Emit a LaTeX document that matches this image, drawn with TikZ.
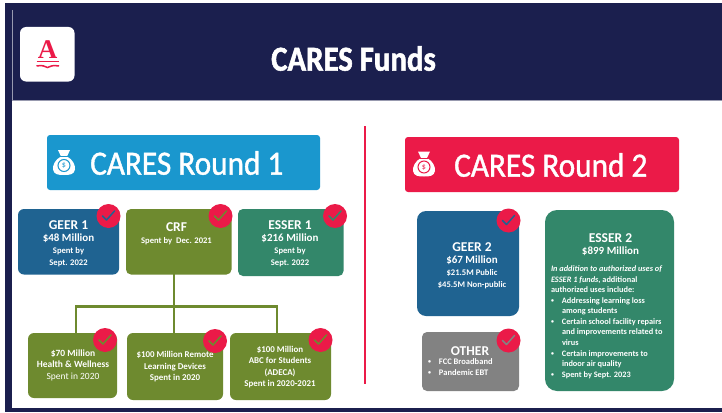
\documentclass[tikz,border=0pt]{standalone}
\usepackage{fontspec}
\setmainfont{Carlito}
\newfontfamily\bannerfont[FakeBold=1.2,FakeStretch=0.92]{Carlito}
\newfontfamily\titlefont[BoldFont=Carlito Bold,FakeBold=1.6,FakeStretch=0.88]{Carlito}
\newfontfamily\logofont{Liberation Serif}
\usetikzlibrary{calc}
\definecolor{navy}{HTML}{1B1F4E}
\definecolor{crimson}{HTML}{EB1A48}
\definecolor{skyb}{HTML}{1A97CE}
\definecolor{steel}{HTML}{1F6391}
\definecolor{olive}{HTML}{6E8A2F}
\definecolor{teal2}{HTML}{33876A}
\definecolor{greyb}{HTML}{828282}
\newcommand{\fsA}{\fontsize{13.5}{16}\selectfont}
\newcommand{\fsB}{\fontsize{11}{12.5}\selectfont}
\newcommand{\fsC}{\fontsize{8.6}{10}\selectfont}
\newcommand{\bul}{\raisebox{.6pt}{\scalebox{.7}{\textbullet}}\hspace{8pt}}
\tikzset{
  x=1pt,y=-1pt,
  card/.style={inner sep=0pt,outer sep=0pt,text=white,font=\bfseries,align=center},
  listtext/.style={card,anchor=north west,align=left,font=\bfseries\fontsize{8.3}{10.55}\selectfont},
  banner/.style={text=white,inner sep=0pt,font=\bannerfont\fontsize{34}{34}\selectfont},
  conn/.style={draw=olive,line width=2.4pt},
  checkdisc/.style={circle,fill=crimson,minimum size=24pt,inner sep=0pt},
  tick/.style={line width=1.5pt,line cap=round,line join=round},
}
\newcommand{\chk}[4]{% name,x,y,tick colour
  \node[checkdisc] (#1) at (#2,#3) {};
  \draw[tick,draw=#4] ($(#1)+(-6,0)$) -- ($(#1)+(-2,4)$) -- ($(#1)+(6,-5)$);}
\newcommand{\bag}[3]{% x,y,colour
  \begin{scope}[shift={(#1,#2)}]
    \path[fill=white] (-6,-12.5) -- (6,-12.5) -- (3,-6) .. controls (9,-3) and (11.5,3) .. (11,7)
      .. controls (10,12) and (6,12.5) .. (0,12.5) .. controls (-6,12.5) and (-10,12) .. (-11,7)
      .. controls (-11.5,3) and (-9,-3) .. (-3,-6) -- cycle;
    \draw[#3,line width=1pt] (-4,-6) -- (4,-6);
    \draw[#3,line width=1pt] (0,3) circle[radius=6];
    \node[text=#3,inner sep=0pt,font=\fontsize{8}{8}\selectfont] at (0,3) {\$};
  \end{scope}}
\begin{document}
\begin{tikzpicture}
\useasboundingbox (0,0) rectangle (722,412);
\fill[white] (0,0) rectangle (722,412);
% frame
\fill[navy] (5,3) rectangle (722,100);
\fill[navy] (5,3) rectangle (12,412);
\fill[navy] (5,407.5) rectangle (722,412);
\draw[line width=.6pt,draw=white!55!navy] (12.5,10) -- (12.5,100) -- (722,100);
% logo
\fill[white,rounded corners=6pt] (20,27) rectangle (74.5,81.5);
\node[text=crimson,inner sep=0pt,font=\logofont\bfseries\fontsize{27}{27}\selectfont] (logoA) at (47.5,49.5) {A};
\draw[crimson,line width=1.5pt] (36.5,61.5) -- (59,61.5);
\draw[crimson,line width=1.5pt] (36.5,66) .. controls (42,65) and (45,66) .. (47.5,67.5) .. controls (50,66) and (53,65) .. (59,66);
\node[text=white,inner sep=0pt,font=\titlefont\bfseries\fontsize{35}{35}\selectfont] (title) at (353.5,58.5) {CARES Funds};
% divider
\draw[crimson,line width=2pt] (365,126) -- (365,384);
% banners
\fill[skyb,rounded corners=3pt] (47,135) rectangle (320,190);
\bag{64}{162.5}{skyb}
\node[banner,anchor=west] (r1) at (90,163) {CARES Round 1};
\fill[crimson,rounded corners=3pt] (405,137) rectangle (679,192);
\bag{424}{164}{crimson}
\node[banner,anchor=west] (r2) at (454,165) {CARES Round 2};
% connectors (under the cards)
\coordinate (crfb) at (174,274);
\coordinate (hub) at (174,306.5);
\coordinate (hl) at (76,306.5);
\coordinate (hr) at (277,306.5);
\coordinate (b1t) at (76,334);
\coordinate (b2t) at (174,334);
\coordinate (b3t) at (277,334);
\draw[conn] (crfb) -- (hub);
\draw[conn,line cap=rect] (hl) -- (hr);
\draw[conn] (hl) -- (b1t);
\draw[conn] (hub) -- (b2t);
\draw[conn] (hr) -- (b3t);
% round 1 cards
\fill[steel,rounded corners=6pt] (18,209) rectangle (119,274.5);
\fill[olive,rounded corners=5pt] (126,209) rectangle (231.5,274.5);
\fill[teal2,rounded corners=5pt] (238,209) rectangle (343.5,276);
\fill[olive,rounded corners=6pt] (28,333) rectangle (117,398);
\fill[olive,rounded corners=6pt] (127,333) rectangle (223,400);
\fill[olive,rounded corners=6pt] (230,333) rectangle (331,400);
\node[card] (geer1) at (68.5,243.5) {\fsA GEER 1\\\fsB \$48 Million\\\fsC Spent by\\\fsC Sept. 2022};
\node[card] (crf) at (176.5,234) {\fsA CRF\\\fsC Spent by\ \ Dec. 2021};
\node[card] (esser1) at (290,243.5) {\fsA ESSER 1\\\fsB \$216 Million\\\fsC Spent by\\\fsC Sept. 2022};
\node[card,font=\bfseries\fontsize{9.5}{11.5}\selectfont] (b1) at (73,365) {\$70 Million\\Health \& Wellness\\\mdseries Spent in 2020};
\node[card,font=\bfseries\fontsize{8.9}{11.5}\selectfont] (b2) at (175,367) {\$100 Million Remote\\Learning Devices\\Spent in 2020};
\node[card,font=\bfseries\fontsize{8.9}{11.5}\selectfont] (b3) at (280,367) {\$100 Million\\ABC for Students\\(ADECA)\\Spent in 2020-2021};
% round 2 cards
\fill[steel,rounded corners=9pt] (417,211) rectangle (519,316);
\fill[greyb,rounded corners=5pt] (422,332) rectangle (519,391);
\fill[teal2,rounded corners=12pt] (545,210) rectangle (674,391);
\node[card] (geer2) at (472,265.5) {\fsA GEER 2\\\fsB \$67 Million\\\fsC \$21.5M Public\\\fsC \$45.5M Non-public};
\node[card] (oth) at (470,351) {\fsA OTHER};
\node[listtext,font=\bfseries\fontsize{8.5}{11}\selectfont] (othl) at (428,358.5) {\bul FCC Broadband\\\bul Pandemic EBT};
\node[card] (esser2h) at (610.5,245) {\fsA ESSER 2\\\fsB \$899 Million};
\node[listtext] (esser2b) at (551,266) {\textit{In addition to authorized uses of}\\\textit{ESSER 1 funds}, additional\\authorized uses include:};
\node[listtext] (esser2l) at (551,297.5) {\bul Addressing learning loss\\\hspace*{11pt}among students\\\bul Certain school facility repairs\\\hspace*{11pt}and improvements related to\\\hspace*{11pt}virus\\\bul Certain improvements to\\\hspace*{11pt}indoor air quality\\\bul Spent by Sept. 2023};
% checks
\chk{c1}{108.5}{216}{steel}
\chk{c2}{220.5}{216}{olive}
\chk{c3}{335}{216}{teal2}
\chk{c4}{105}{340}{olive}
\chk{c5}{215}{341}{olive}
\chk{c6}{320.5}{340}{olive}
\chk{c7}{508.5}{220.5}{steel}
\chk{c8}{508.5}{340.5}{greyb}
\end{tikzpicture}
\end{document}
